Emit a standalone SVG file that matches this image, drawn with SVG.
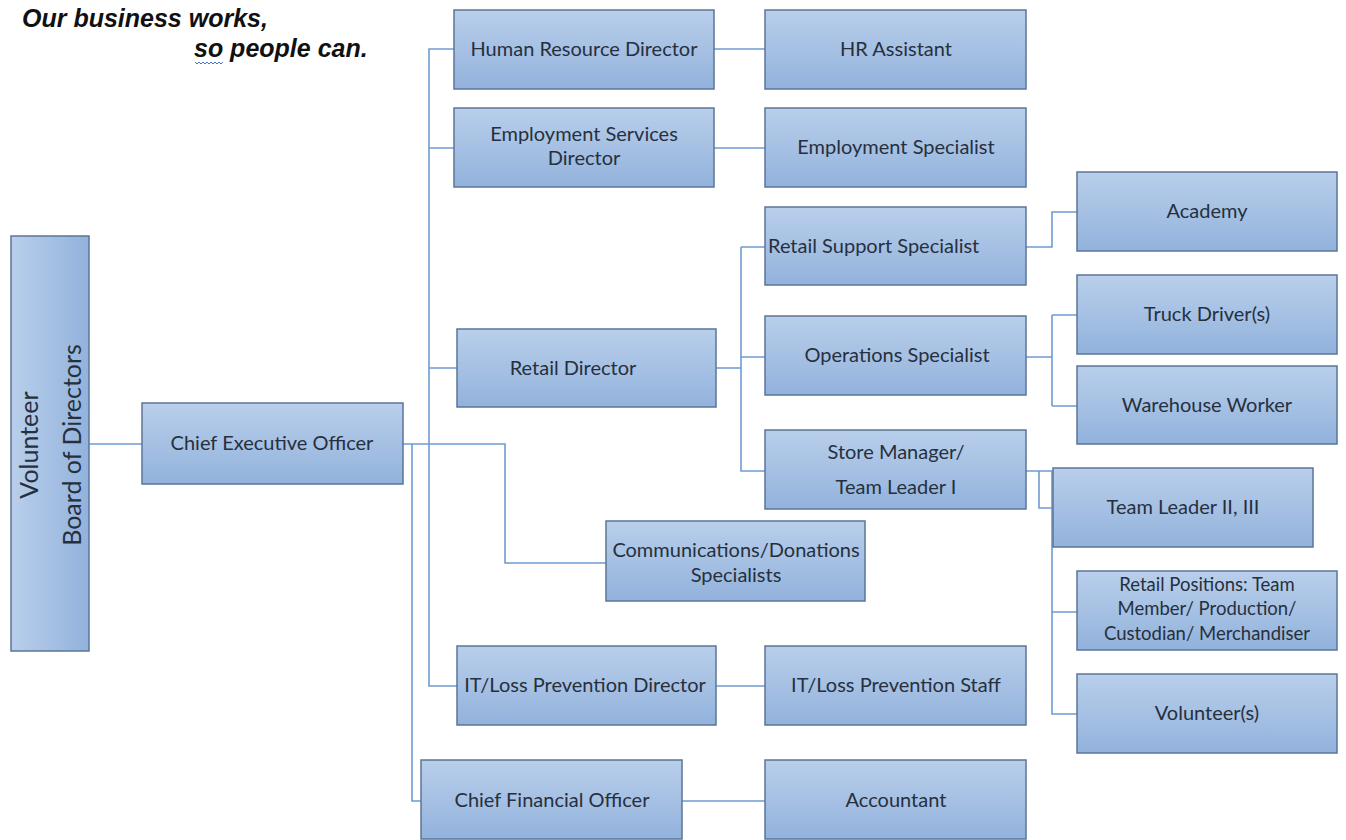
<svg xmlns="http://www.w3.org/2000/svg" width="1346" height="840" viewBox="0 0 1346 840">
<defs>
<linearGradient id="g" x1="0" y1="0" x2="0" y2="1">
<stop offset="0" stop-color="#b9cfeb"/>
<stop offset="1" stop-color="#92b2dc"/>
</linearGradient>
<linearGradient id="gv" x1="0" y1="0" x2="1" y2="0">
<stop offset="0" stop-color="#b9cfeb"/>
<stop offset="1" stop-color="#92b2dc"/>
</linearGradient>
<style>
.box{fill:url(#g);stroke:#5b7599;stroke-width:1.5}
.t{font-family:Lato,"Liberation Sans",sans-serif;font-size:20px;fill:#26303d;text-anchor:middle}
.s{font-size:18.5px}
.c{fill:none;stroke:#6f9bd2;stroke-width:1.6}
.title{font-family:"Liberation Sans",Arial,sans-serif;font-size:25px;font-weight:bold;font-style:italic;fill:#111}
</style>
</defs>
<rect width="1346" height="840" fill="#fff"/>
<g id="title">
<text class="title" x="22" y="27">Our business works,</text>
<text class="title" x="194" y="57">so people can.</text>
<path d="M195 62 l2 2 l2 -2 l2 2 l2 -2 l2 2 l2 -2 l2 2 l2 -2 l2 2 l2 -2 l2 2 l2 -2 l2 2 l2 -2" fill="none" stroke="#4a6fd8" stroke-width="1"/>
</g>
<g id="connectors" class="c">
<path class="c" d="M89 444H142"/>
<path class="c" d="M403 444H505V563H606"/>
<path class="c" d="M429 444V49H454M429 148H454M429 368H457M429 444V686H457"/>
<path class="c" d="M412 444V801H421"/>
<path class="c" d="M714 49H765M714 148H765M716 686H765M682 801H765"/>
<path class="c" d="M716 368H741M741 247V471H765M741 247H765M741 357H765"/>
<path class="c" d="M1026 247H1052V212H1077"/>
<path class="c" d="M1026 357H1052M1052 315V406M1052 315H1077M1052 406H1077"/>
<path class="c" d="M1026 471H1052V714H1077M1052 612H1077M1039 471V508H1053"/>
</g>
<g id="board"><rect class="box" x="11" y="236" width="78" height="415" style="fill:url(#gv)"/>
<text class="t" style="font-size:25px" transform="translate(38,445) rotate(-90)">Volunteer</text>
<text class="t" style="font-size:25px" transform="translate(81,445) rotate(-90)">Board of Directors</text></g>
<g id="ceo"><rect class="box" x="142" y="403" width="261" height="81"/><text class="t" x="272" y="450">Chief Executive Officer</text></g>
<g id="hr-director"><rect class="box" x="454" y="10" width="260" height="79"/><text class="t" x="584" y="56">Human Resource Director</text></g>
<g id="hr-assistant"><rect class="box" x="765" y="10" width="261" height="79"/><text class="t" x="896" y="56">HR Assistant</text></g>
<g id="emp-director"><rect class="box" x="454" y="108" width="260" height="79"/><text class="t" x="584" y="141">Employment Services</text><text class="t" x="584" y="165">Director</text></g>
<g id="emp-specialist"><rect class="box" x="765" y="108" width="261" height="79"/><text class="t" x="896" y="154">Employment Specialist</text></g>
<g id="academy"><rect class="box" x="1077" y="172" width="260" height="79"/><text class="t" x="1207" y="218">Academy</text></g>
<g id="retail-support"><rect class="box" x="765" y="207" width="261" height="78"/><text class="t" x="768" y="253" style="text-anchor:start">Retail Support Specialist</text></g>
<g id="truck"><rect class="box" x="1077" y="275" width="260" height="79"/><text class="t" x="1207" y="321">Truck Driver(s)</text></g>
<g id="operations"><rect class="box" x="765" y="316" width="261" height="79"/><text class="t" x="897" y="362">Operations Specialist</text></g>
<g id="warehouse"><rect class="box" x="1077" y="366" width="260" height="78"/><text class="t" x="1207" y="412">Warehouse Worker</text></g>
<g id="retail-director"><rect class="box" x="457" y="329" width="259" height="78"/><text class="t" x="573" y="375">Retail Director</text></g>
<g id="store-manager"><rect class="box" x="765" y="430" width="261" height="79"/><text class="t" x="896" y="459">Store Manager/</text><text class="t" x="896" y="494">Team Leader I</text></g>
<g id="team-leader"><rect class="box" x="1053" y="468" width="260" height="79"/><text class="t" x="1183" y="514">Team Leader II, III</text></g>
<g id="retail-positions"><rect class="box" x="1077" y="571" width="260" height="79"/><text class="t s" x="1207" y="591">Retail Positions: Team</text><text class="t s" x="1207" y="615">Member/ Production/</text><text class="t s" x="1207" y="640">Custodian/ Merchandiser</text></g>
<g id="volunteers"><rect class="box" x="1077" y="674" width="260" height="79"/><text class="t" x="1207" y="720">Volunteer(s)</text></g>
<g id="communications"><rect class="box" x="606" y="521" width="259" height="80"/><text class="t" x="736" y="557">Communications/Donations</text><text class="t" x="736" y="582">Specialists</text></g>
<g id="it-director"><rect class="box" x="457" y="646" width="259" height="79"/><text class="t" x="585" y="692">IT/Loss Prevention Director</text></g>
<g id="it-staff"><rect class="box" x="765" y="646" width="261" height="79"/><text class="t" x="896" y="692">IT/Loss Prevention Staff</text></g>
<g id="cfo"><rect class="box" x="421" y="760" width="261" height="79"/><text class="t" x="552" y="807">Chief Financial Officer</text></g>
<g id="accountant"><rect class="box" x="765" y="760" width="261" height="79"/><text class="t" x="896" y="807">Accountant</text></g>
</svg>
